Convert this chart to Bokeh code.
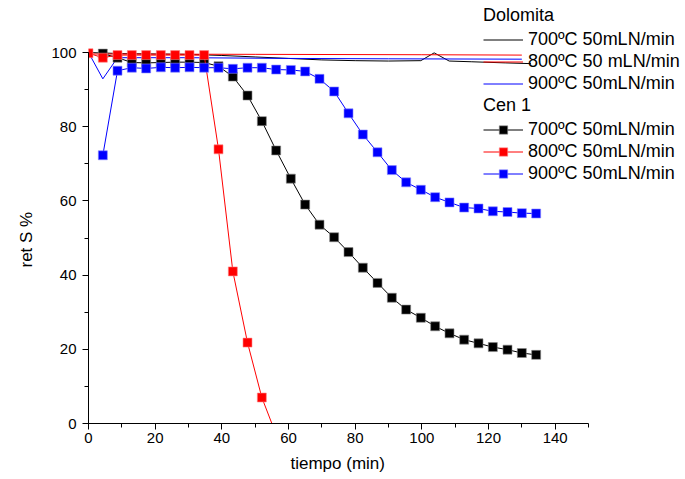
from bokeh.plotting import figure
from bokeh.models import Legend, LegendItem, Range1d, SingleIntervalTicker, Title
from bokeh.embed import file_html
from bokeh.resources import INLINE

# ---- Dolomita (lines only) ----
dol_700_t = [0, 10, 20, 30, 40, 50, 60, 70, 80, 90, 99.7, 103.7, 108.2, 115, 125, 132.7]
dol_700_v = [100, 99.7, 99.6, 99.5, 99.2, 98.8, 98.4, 98.0, 97.8, 97.7, 97.8, 99.9, 97.7, 97.5, 97.2, 97.0]
dol_800_t = [0, 50, 100, 130]
dol_800_v = [99.6, 99.5, 99.4, 99.3]
dol_900_t = [0, 4.3, 8.7, 30, 60, 90, 130]
dol_900_v = [100, 92.9, 98.6, 98.6, 98.4, 98.3, 98.2]

# ---- Cen 1 (lines + square markers) ----
cen_t = [4.3, 8.7, 13.0, 17.3, 21.7, 26.0, 30.3, 34.7, 39.0, 43.3, 47.7, 52.0, 56.3, 60.7,
         65.0, 69.3, 73.7, 78.0, 82.3, 86.7, 91.0, 95.3, 99.7, 104.0, 108.3, 112.7, 117.0,
         121.3, 125.7, 130.0, 134.3]
cen_700_v = [99.7, 98.6, 97.3, 97.2, 97.3, 97.4, 97.4, 97.3, 96.3, 93.5, 88.4, 81.5, 73.6, 66.0,
             59.0, 53.6, 50.2, 46.2, 42.0, 37.9, 33.9, 30.7, 28.5, 26.2, 24.3, 22.6, 21.6,
             20.6, 19.9, 19.0, 18.5]
cen_900_v = [72.3, 95.1, 95.9, 95.7, 96.0, 95.9, 96.0, 95.9, 95.9, 95.6, 95.9, 95.9, 95.4, 95.3,
             94.9, 92.9, 89.5, 83.6, 77.9, 73.1, 68.3, 65.0, 63.0, 61.0, 59.6, 58.2, 57.95,
             57.2, 57.0, 56.7, 56.6]
cen_800_t = [0, 4.3, 8.7, 13.0, 17.3, 21.7, 26.0, 30.3, 34.7, 39.0, 43.3, 47.7, 52.0, 56.3]
cen_800_v = [99.8, 98.6, 99.3, 99.3, 99.3, 99.3, 99.3, 99.3, 99.3, 73.9, 41.0, 21.8, 7.0, -3.0]

x_axis_span = (0, 150)
y_axis_span = (0, 100)
x_ticks_interval = 20
y_ticks_interval = 20

x_title = "tiempo (min)"
y_title = "ret S %"
dol_labels = ["700ºC 50mLN/min", "800ºC 50 mLN/min", "900ºC 50mLN/min"]
cen_labels = ["700ºC 50mLN/min", "800ºC 50mLN/min", "900ºC 50mLN/min"]

FONT = "Liberation Sans"

W, H = 685, 479
LEFT, BOTTOM = 88, 56          # frame starts at x=88, ends at y=423
AX_W, AX_H = 500, 371          # pixel length of the drawn axes
frame_w = W - LEFT
frame_h = H - BOTTOM
x_max = x_axis_span[1] * frame_w / AX_W
y_max = y_axis_span[1] * frame_h / AX_H

p = figure(width=W, height=H, output_backend="svg", toolbar_location=None,
           x_range=Range1d(0, x_max), y_range=Range1d(0, y_max),
           min_border_left=LEFT, min_border_right=0, min_border_top=0, min_border_bottom=BOTTOM)
p.outline_line_color = None
p.xgrid.grid_line_color = None
p.ygrid.grid_line_color = None
p.background_fill_color = "white"
p.border_fill_color = "white"

for ax, interval, span in ((p.xaxis[0], x_ticks_interval, x_axis_span),
                           (p.yaxis[0], y_ticks_interval, y_axis_span)):
    ax.ticker = SingleIntervalTicker(interval=interval, num_minor_ticks=2)
    ax.bounds = span
    ax.axis_line_color = "black"
    ax.axis_line_width = 1
    ax.major_tick_line_color = "black"
    ax.minor_tick_line_color = "black"
    ax.major_tick_in = 0
    ax.major_tick_out = 6
    ax.minor_tick_in = 0
    ax.minor_tick_out = 4
    ax.major_label_text_font = FONT
    ax.major_label_text_font_size = "15px"
    ax.major_label_text_color = "black"

p.xaxis.major_label_standoff = 3
p.yaxis.major_label_standoff = 6

# axis titles, placed along the drawn axes (not the wider frame)
p.add_layout(Title(text=x_title, align="left", offset=202, standoff=12,
                   text_font=FONT, text_font_size="17px", text_font_style="normal",
                   text_color="black"), "below")
p.add_layout(Title(text=y_title, align="left", offset=156, standoff=25,
                   text_font=FONT, text_font_size="17px", text_font_style="normal",
                   text_color="black"), "left")

# Dolomita lines
r_d700 = p.line(dol_700_t, dol_700_v, line_color="black", line_width=1)
r_d800 = p.line(dol_800_t, dol_800_v, line_color="red", line_width=1)
r_d900 = p.line(dol_900_t, dol_900_v, line_color="blue", line_width=1)

# Cen 1 lines + markers
r_c700l = p.line(cen_t, cen_700_v, line_color="black", line_width=1)
r_c700m = p.scatter(cen_t, cen_700_v, marker="square", size=9, fill_color="black",
                    line_color="#888888", line_width=0.6)
r_c800l = p.line(cen_800_t, cen_800_v, line_color="red", line_width=1)
r_c800m = p.scatter(cen_800_t, cen_800_v, marker="square", size=9, fill_color="red",
                    line_color="#ff8888", line_width=0.6)
r_c900l = p.line(cen_t, cen_900_v, line_color="blue", line_width=1)
r_c900m = p.scatter(cen_t, cen_900_v, marker="square", size=9, fill_color="blue",
                    line_color="#8888ff", line_width=0.6)


def make_legend(title, items, loc):
    lg = Legend(items=items, location=loc, title=title,
                title_text_font=FONT, title_text_font_size="18px",
                title_text_font_style="normal", title_text_color="black",
                title_standoff=3,
                label_text_font=FONT, label_text_font_size="18px", label_text_color="black",
                glyph_width=40, glyph_height=21, label_height=21, label_standoff=5,
                spacing=1, padding=0, margin=0,
                background_fill_alpha=0, border_line_alpha=0)
    return lg


leg1 = make_legend("Dolomita", [
    LegendItem(label=dol_labels[0], renderers=[r_d700]),
    LegendItem(label=dol_labels[1], renderers=[r_d800]),
    LegendItem(label=dol_labels[2], renderers=[r_d900]),
], (395, 329))
leg2 = make_legend("Cen 1", [
    LegendItem(label=cen_labels[0], renderers=[r_c700l, r_c700m]),
    LegendItem(label=cen_labels[1], renderers=[r_c800l, r_c800m]),
    LegendItem(label=cen_labels[2], renderers=[r_c900l, r_c900m]),
], (395, 239))
p.add_layout(leg1, "center")
p.add_layout(leg2, "center")

open("out.html", "w").write(file_html(p, INLINE))
